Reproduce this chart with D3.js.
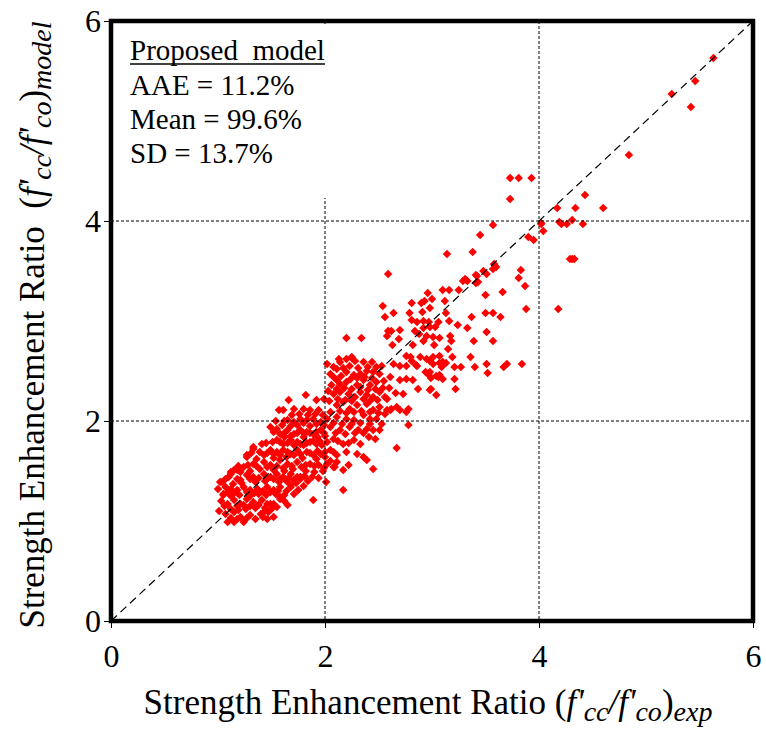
<!DOCTYPE html>
<html>
<head>
<meta charset="utf-8">
<script src="https://cdn.jsdelivr.net/npm/d3@7"></script>
<style>
  html, body { margin: 0; padding: 0; background: #fff; }
  svg { display: block; }
  text { font-family: "Liberation Serif", "Times New Roman", serif; fill: #000; }
</style>
</head>
<body>
<svg id="chart" width="766" height="733"></svg>
<script>
// Strength enhancement ratio: experiment (x) vs. proposed model (y)
const axisTicks = [0, 2, 4, 6];
const gridX = [2, 4];
const gridY = [2, 4];
const statsLines = ["AAE = 11.2%", "Mean = 99.6%", "SD = 13.7%"];

// specimens with high confinement (ratio > ~2.5)
const highRange = [
  [5.63,5.63],[5.46,5.40],[5.24,5.27],[5.42,5.14],[4.84,4.66],
  [3.73,4.43],[3.81,4.43],[3.93,4.43],[3.73,4.22],[4.43,4.26],
  [4.17,4.13],[4.34,4.13],[4.60,4.13],
  [4.02,3.97],[4.04,3.90],[4.19,3.99],[4.21,3.97],[4.26,3.97],[4.31,4.01],[4.41,3.97],
  [4.29,3.62],[4.31,3.62],[4.33,3.62],[4.18,3.12],
  [3.57,3.96],[4.02,3.98],[3.90,3.84],[3.95,3.81],[3.45,3.86],[3.14,3.67],[3.38,3.69],[2.59,3.47],
  [3.58,3.57],[3.60,3.54],[3.48,3.50],[3.51,3.47],[3.41,3.46],[3.31,3.42],[3.33,3.40],[3.29,3.40],
  [3.43,3.39],[3.41,3.38],[3.57,3.52],[3.42,3.45],
  [3.83,3.51],[3.81,3.43],[3.87,3.35],[3.88,3.12],
  [3.25,3.31],[3.16,3.31],[3.10,3.31],[3.50,3.26],[3.66,3.29],
  [2.96,3.28],[2.93,3.20],[2.90,3.18],[3.00,3.22],[2.81,3.18],[2.54,3.15],[2.64,3.08],[2.56,3.04],
  [2.79,3.08],[2.91,3.09],[2.98,3.13],[3.12,3.20],[3.13,3.08],
  [2.81,3.01],[2.86,2.99],[2.92,3.00],[2.97,2.99],[3.06,2.99],[3.16,3.00],[3.37,3.04],
  [3.50,3.08],[3.57,3.08],[3.64,3.04],[3.24,2.96],[3.33,2.93]
];

// intermediate confinement
const midRange = [
  [2.59,2.90],[2.62,2.90],[2.58,2.85],[2.70,2.91],[2.84,2.90],[2.88,2.87],[2.92,2.93],[2.95,2.85],
  [2.98,2.94],[3.03,2.94],[3.01,2.84],[3.07,2.83],
  [3.17,2.85],[3.18,2.80],[3.51,2.89],[3.57,2.80],[3.39,2.80],[2.69,2.82],[2.63,2.76],
  [2.82,2.76],[2.92,2.80],[3.02,2.76],[3.07,2.65],[3.15,2.72],
  [2.80,2.64],[2.85,2.56],[2.94,2.49],[2.97,2.46],[2.99,2.43],[3.19,2.64],[3.36,2.64],[3.40,2.54],
  [3.51,2.57],[3.52,2.48],[3.67,2.54],[3.70,2.57],[3.84,2.57],
  [3.21,2.54],[3.27,2.54],[3.07,2.58],[3.10,2.59],[3.13,2.58],[3.09,2.54],[3.04,2.45],[3.07,2.46],
  [3.10,2.42],[3.21,2.42],[2.99,2.32],[3.04,2.26],[3.22,2.32],[2.73,2.27],
  [2.20,2.83],[2.34,2.83],[2.13,2.62],[2.25,2.63],
  [2.76,2.65],[2.81,2.60],[2.89,2.64],[2.95,2.62],[2.98,2.60],[3.01,2.64],
  [2.64,2.57],[2.70,2.55],[2.76,2.55],[2.86,2.55],
  [2.61,2.44],[2.70,2.41],[2.76,2.42],[2.82,2.41],[2.87,2.32],
  [2.98,2.49],[2.98,2.31],[3.06,2.44],[3.01,2.57],
  [2.58,2.22],[2.61,2.11],[2.67,2.14],[2.70,2.11],[2.76,2.09],[2.78,2.12],[2.78,1.96],[2.67,1.73],
  [2.55,2.40],[2.60,2.33],[2.66,2.28],[2.54,2.33],
  [2.02,2.57],[2.08,2.54],[2.14,2.59],[2.20,2.62],[2.25,2.64],[2.28,2.60],[2.36,2.59],[2.44,2.59],
  [2.48,2.54],[2.53,2.55],
  [2.11,2.52],[2.17,2.53],[2.23,2.55],[2.31,2.53],[2.40,2.54],
  [2.05,2.47],[2.11,2.41],[2.20,2.49],[2.27,2.46],[2.33,2.47],[2.39,2.50],[2.45,2.49],[2.51,2.47],
  [2.08,2.44],[2.15,2.45],[2.24,2.42],[2.30,2.43],[2.37,2.44],[2.44,2.43],
  [2.06,2.36],[2.14,2.37],[2.20,2.39],[2.30,2.36],[2.36,2.41],[2.42,2.36],[2.48,2.39],
  [2.03,2.30],[2.11,2.32],[2.18,2.33],[2.25,2.32],[2.33,2.34],[2.40,2.31],[2.47,2.32],
  [2.08,2.27],[2.14,2.29],[2.22,2.27],[2.28,2.24],[2.33,2.29],[2.39,2.26],[2.45,2.24],[2.51,2.29],[2.56,2.24],
  [2.04,2.20],[2.12,2.22],[2.19,2.21],[2.25,2.20],[2.36,2.22],[2.42,2.20],[2.49,2.21],
  [2.11,2.16],[2.17,2.19],[2.23,2.12],[2.30,2.16],[2.39,2.17],[2.45,2.11],[2.51,2.14],[2.58,2.11],[2.62,2.12],
  [2.05,2.09],[2.14,2.10],[2.20,2.08],[2.27,2.09],[2.34,2.10],[2.42,2.09],[2.50,2.08],[2.56,2.07],
  [2.02,2.02],[2.11,2.04],[2.20,2.02],[2.27,2.01],[2.36,2.06],[2.42,2.02],[2.48,2.02],
  [2.08,1.98],[2.16,1.97],[2.25,1.97],[2.33,1.98],[2.42,1.97],[2.53,1.97],
  [2.05,1.94],[2.14,1.91],[2.23,1.94],[2.31,1.91],[2.39,1.92],[2.45,1.91],[2.51,1.91],
  [2.10,1.88],[2.19,1.87],[2.28,1.88],[2.36,1.88],
  [2.08,1.82],[2.17,1.77],[2.27,1.81],[2.33,1.77],[2.41,1.84],[2.47,1.82],
  [2.02,1.79],[2.12,1.80],[2.22,1.78],
  [2.05,1.71],[2.11,1.66],[2.20,1.69],[2.30,1.67],[2.36,1.64],[2.39,1.61],
  [2.00,1.69],[2.08,1.69],[2.05,1.60],
  [2.02,1.57],[2.09,1.54],[2.17,1.51],[2.45,1.52],[2.01,1.39],[2.17,1.31],[1.89,1.21],
  [2.22,1.56],[2.08,1.54],[2.11,1.59]
];

// low confinement (ratio < ~2)
const lowRange = [
  [1.82,2.26],[1.66,2.21],[1.57,2.11],[1.92,2.21],[1.99,2.22],[1.80,2.12],[1.71,2.12],[1.61,2.11],[1.86,2.11],[1.94,2.11],
  [1.69,2.06],[1.76,2.07],[1.84,2.06],[1.91,2.07],[1.98,2.06],
  [1.49,1.94],[1.55,1.92],[1.65,2.01],[1.71,1.99],[1.77,2.02],[1.83,2.01],[1.89,2.02],[1.96,1.99],
  [1.54,2.00],[1.62,2.00],[1.80,1.98],[1.92,1.97],
  [1.60,1.96],[1.68,1.95],[1.74,1.96],[1.86,1.95],[1.99,1.96],
  [1.58,1.87],[1.65,1.91],[1.71,1.87],[1.77,1.91],[1.83,1.89],[1.89,1.87],[1.96,1.91],
  [1.52,1.89],[1.62,1.88],[1.74,1.88],[1.80,1.88],[1.86,1.88],[1.92,1.89],[1.99,1.88],
  [1.62,1.84],[1.68,1.85],[1.80,1.84],[1.93,1.84],[2.00,1.85],
  [1.33,1.72],[1.55,1.81],[1.61,1.77],[1.68,1.81],[1.74,1.79],[1.80,1.76],[1.86,1.79],[1.92,1.77],[1.97,1.76],
  [1.45,1.78],[1.51,1.79],[1.58,1.79],[1.65,1.78],[1.71,1.76],[1.77,1.77],[1.83,1.78],[1.89,1.80],[1.95,1.80],
  [1.27,1.64],[1.43,1.66],[1.49,1.71],[1.55,1.69],[1.61,1.71],[1.68,1.67],[1.74,1.71],[1.83,1.69],[1.89,1.66],[1.96,1.67],
  [1.31,1.68],[1.39,1.69],[1.46,1.68],[1.52,1.67],[1.58,1.66],[1.65,1.69],[1.71,1.66],[1.77,1.67],[1.86,1.68],[1.93,1.70],
  [1.36,1.62],[1.52,1.63],[1.64,1.64],[1.79,1.63],[1.92,1.62],[2.00,1.64],
  [1.15,1.51],[1.24,1.54],[1.33,1.57],[1.43,1.59],[1.49,1.56],[1.58,1.61],[1.65,1.57],[1.74,1.59],[1.78,1.54],[1.86,1.57],[1.94,1.56],
  [1.19,1.55],[1.28,1.56],[1.36,1.55],[1.46,1.54],[1.55,1.55],[1.61,1.53],[1.69,1.55],[1.82,1.56],[1.90,1.55],[1.99,1.53],
  [1.21,1.49],[1.30,1.50],[1.39,1.52],[1.52,1.51],[1.62,1.50],[1.70,1.52],[1.82,1.50],[1.90,1.49],[1.98,1.50],
  [1.04,1.39],[1.10,1.44],[1.18,1.42],[1.27,1.46],[1.33,1.44],[1.43,1.47],[1.49,1.44],[1.55,1.47],[1.61,1.44],[1.68,1.47],[1.74,1.44],[1.77,1.42],
  [1.07,1.42],[1.21,1.41],[1.30,1.42],[1.38,1.43],[1.46,1.42],[1.52,1.42],[1.58,1.42],[1.66,1.43],[1.71,1.41],[1.81,1.45],[1.88,1.44],[1.94,1.43],
  [1.14,1.37],[1.22,1.38],[1.35,1.39],[1.44,1.40],[1.57,1.39],[1.64,1.40],[1.73,1.38],[1.84,1.40],
  [1.05,1.27],[1.12,1.32],[1.18,1.31],[1.24,1.34],[1.30,1.31],[1.37,1.32],[1.46,1.34],[1.52,1.31],[1.58,1.34],[1.68,1.36],
  [1.09,1.29],[1.15,1.28],[1.27,1.29],[1.34,1.28],[1.42,1.30],[1.49,1.29],[1.56,1.30],[1.64,1.30],[1.75,1.31],[1.80,1.35],
  [1.12,1.25],[1.20,1.26],[1.30,1.25],[1.38,1.27],[1.45,1.26],[1.54,1.27],[1.62,1.26],
  [1.09,1.17],[1.15,1.21],[1.21,1.17],[1.27,1.22],[1.33,1.19],[1.41,1.21],[1.46,1.17],[1.55,1.14],[1.58,1.22],
  [1.06,1.15],[1.18,1.15],[1.24,1.16],[1.30,1.15],[1.38,1.16],[1.52,1.17],[1.62,1.20],
  [1.12,1.12],[1.19,1.11],[1.26,1.12],[1.35,1.13],[1.44,1.13],[1.50,1.12],
  [1.07,1.07],[1.15,1.09],[1.21,1.04],[1.30,1.06],[1.40,1.07],[1.47,1.09],[1.52,1.04],
  [1.12,1.03],[1.18,1.02],[1.27,1.03],[1.35,1.02],[1.42,1.04],
  [1.09,0.99],[1.15,0.99],[1.24,0.99],
  [1.02,1.39],[1.07,1.34],[1.05,1.26],[1.12,1.47],[1.18,1.51],
  [1.00,1.32],[1.03,1.20],[1.01,1.10],
  [1.46,1.02],[1.43,1.09],[1.58,1.24],[1.49,1.17],
  [1.27,1.66],[1.33,1.74],[1.41,1.77],[1.12,1.49],
  [1.77,1.44],[1.68,1.34],[1.71,1.27],[1.65,1.16]
];

const specimens = [...lowRange, ...midRange, ...highRange];

const svg = d3.select("#chart");
const plot = { left: 111, right: 753, top: 21, bottom: 621 };

const x = d3.scaleLinear().domain([0, 6]).range([plot.left, plot.right]);
const y = d3.scaleLinear().domain([0, 6]).range([plot.bottom, plot.top]);

// markers: small red diamonds (rotated squares)
const marker = d3.symbol().type(d3.symbolSquare).size(36);
svg.append("g")
  .selectAll("path")
  .data(specimens)
  .join("path")
  .attr("d", marker)
  .attr("transform", d => `translate(${x(d[0])},${y(d[1])}) rotate(45)`)
  .attr("fill", "#ff0000");

// dashed grid lines
const grid = svg.append("g").attr("stroke", "#000").attr("stroke-width", 1).attr("stroke-dasharray", "3,2");
grid.selectAll("line.gx").data(gridX).join("line")
  .attr("x1", d => x(d)).attr("x2", d => x(d))
  .attr("y1", plot.top).attr("y2", plot.bottom);
grid.selectAll("line.gy").data(gridY).join("line")
  .attr("y1", d => y(d)).attr("y2", d => y(d))
  .attr("x1", plot.left).attr("x2", plot.right);

// line of equality
svg.append("line")
  .attr("x1", x(0)).attr("y1", y(0))
  .attr("x2", x(6)).attr("y2", y(6))
  .attr("stroke", "#000").attr("stroke-width", 1.2)
  .attr("stroke-dasharray", "8,5");

// statistics box
svg.append("rect")
  .attr("x", 115).attr("y", 26).attr("width", 225).attr("height", 172)
  .attr("fill", "#fff");

const box = svg.append("g").attr("font-size", 29);
const title = box.append("text").attr("x", 130).attr("y", 60).attr("xml:space", "preserve").text("Proposed  model");
const titleLen = title.node().getComputedTextLength();
box.append("line")
  .attr("x1", 130).attr("x2", 130 + titleLen).attr("y1", 64).attr("y2", 64)
  .attr("stroke", "#000").attr("stroke-width", 1.5);
box.selectAll("text.stat").data(statsLines).join("text")
  .attr("class", "stat")
  .attr("x", 130)
  .attr("y", (d, i) => 95 + i * 34)
  .text(d => d);

// frame
svg.append("rect")
  .attr("x", plot.left).attr("y", plot.top)
  .attr("width", plot.right - plot.left).attr("height", plot.bottom - plot.top)
  .attr("fill", "none").attr("stroke", "#000").attr("stroke-width", 4.5);

// axes
const xAxis = d3.axisBottom(x).tickValues(axisTicks).tickFormat(d3.format("d")).tickSize(7).tickPadding(16);
const yAxis = d3.axisLeft(y).tickValues(axisTicks).tickFormat(d3.format("d")).tickSize(7).tickPadding(3);

const gx = svg.append("g").attr("transform", `translate(0,${plot.bottom})`).call(xAxis);
const gy = svg.append("g").attr("transform", `translate(${plot.left},0)`).call(yAxis);
[gx, gy].forEach(g => {
  g.select(".domain").remove();
  g.selectAll(".tick line").attr("stroke", "#000").attr("stroke-width", 1);
  g.selectAll(".tick text")
    .attr("font-family", "Liberation Serif, serif")
    .attr("font-size", 32)
    .attr("fill", "#000");
});

// axis titles with italic, subscripted ratio notation
function ratioTitle(sel, sub) {
  sel.append("tspan").text("Strength Enhancement Ratio" + (sub === "model" ? "  (" : " ("));
  sel.append("tspan").attr("font-style", "italic").text("f'");
  sel.append("tspan").attr("font-style", "italic").attr("font-size", "0.8em").attr("dy", 7).text("cc");
  sel.append("tspan").attr("font-style", "italic").attr("dy", -7).text("/f'");
  sel.append("tspan").attr("font-style", "italic").attr("font-size", "0.8em").attr("dy", 7).text("co");
  sel.append("tspan").attr("dy", -7).text(")");
  sel.append("tspan").attr("font-style", "italic").attr("font-size", "0.8em").attr("dy", 7).text(sub);
}

svg.append("text")
  .attr("x", 428).attr("y", 714)
  .attr("text-anchor", "middle")
  .attr("font-size", 35)
  .attr("xml:space", "preserve")
  .call(ratioTitle, "exp");

svg.append("text")
  .attr("transform", `translate(44,${(plot.top + plot.bottom) / 2 + 4}) rotate(-90)`)
  .attr("text-anchor", "middle")
  .attr("font-size", 35)
  .attr("xml:space", "preserve")
  .call(ratioTitle, "model");
</script>
</body>
</html>
